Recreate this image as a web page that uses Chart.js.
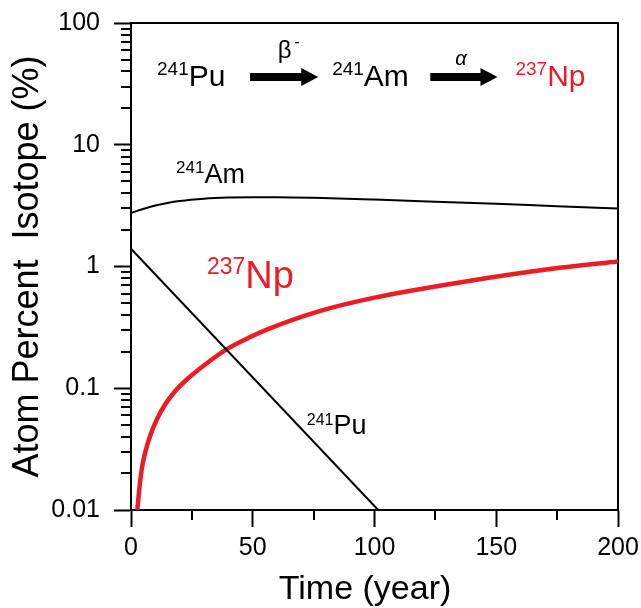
<!DOCTYPE html>
<html>
<head>
<meta charset="utf-8">
<script src="https://cdn.jsdelivr.net/npm/chart.js@4"></script>
<style>
  html, body { margin: 0; padding: 0; background: #fff; }
  #wrap { width: 641px; height: 608px; }
</style>
</head>
<body>
<div id="wrap"><canvas id="decayChart" width="641" height="608"></canvas></div>
<script>
// Données
const amYears = [0, 5, 10, 15, 20, 30, 40, 50, 60, 75, 100, 125, 150, 175, 200];
const amValues = [2.75, 2.97, 3.17, 3.33, 3.45, 3.6, 3.68, 3.71, 3.71, 3.67, 3.55, 3.41, 3.27, 3.13, 3.0];

const npYears = [2.6, 3.4, 4.4, 5.8, 7.8, 10.6, 14, 18.1, 22.9, 27.7, 38.4, 49.4, 56.8, 77.4, 100, 135, 176, 200];
const npValues = [0.01, 0.0148, 0.0216, 0.0295, 0.0404, 0.0554, 0.0735, 0.0945, 0.118, 0.142, 0.204, 0.266, 0.309, 0.43, 0.555, 0.74, 0.975, 1.1];

const puYears = [0, 101.5];
const puValues = [1.4, 0.01];

const xTicks = [0, 50, 100, 150, 200];
const xMinorTicks = [25, 75, 125, 175];
const yTicks = [0.01, 0.1, 1, 10, 100];

const FONT = "'Liberation Sans', Arial, sans-serif";
const RED = '#ed1c24';

Chart.defaults.font.family = FONT;
Chart.defaults.color = '#000';

function toPoints(xs, ys) {
    return xs.map((x, i) => ({x: x, y: ys[i]}));
}

// Petits traits des graduations secondaires
function minorYTicks() {
    const list = [];
    yTicks.slice(0, -1).forEach(d => {
        for (let m = 2; m <= 9; m++) list.push(m * d);
    });
    return list;
}

// Isotope avec nombre de masse en exposant
function drawIsotope(ctx, x, y, mass, symbol, size, supSize, color) {
    ctx.fillStyle = color;
    ctx.textAlign = 'left';
    ctx.textBaseline = 'alphabetic';
    ctx.font = supSize + 'px ' + FONT;
    ctx.fillText(mass, x, y - size * 0.36);
    const w = ctx.measureText(mass).width;
    ctx.font = size + 'px ' + FONT;
    ctx.fillText(symbol, x + w, y);
}

function drawArrow(ctx, x1, x2, y) {
    ctx.fillStyle = '#000';
    ctx.beginPath();
    ctx.moveTo(x1, y - 4);
    ctx.lineTo(x2 - 17, y - 4);
    ctx.lineTo(x2 - 17, y - 9);
    ctx.lineTo(x2, y);
    ctx.lineTo(x2 - 17, y + 9);
    ctx.lineTo(x2 - 17, y + 4);
    ctx.lineTo(x1, y + 4);
    ctx.closePath();
    ctx.fill();
}

const annotations = {
    id: 'annotations',
    afterDraw(chart) {
        const ctx = chart.ctx;
        const xs = chart.scales.x;
        const ys = chart.scales.y;
        const area = chart.chartArea;
        const X = v => xs.getPixelForValue(v);
        const Y = v => ys.getPixelForValue(v);

        ctx.save();
        // graduations secondaires
        ctx.strokeStyle = '#000';
        ctx.lineWidth = 2;
        ctx.beginPath();
        xMinorTicks.forEach(v => {
            const px = Math.round(X(v));
            ctx.moveTo(px, area.bottom);
            ctx.lineTo(px, area.bottom + 10);
        });
        minorYTicks().forEach(v => {
            const py = Math.round(Y(v));
            ctx.moveTo(area.left, py);
            ctx.lineTo(area.left - 10, py);
        });
        ctx.stroke();

        // schéma de désintégration
        drawIsotope(ctx, X(10.7), Y(30.3), '241', 'Pu', 30, 19, '#000');
        drawArrow(ctx, X(48.9), X(76.9), Y(36));
        ctx.fillStyle = '#000';
        ctx.font = '24px ' + FONT;
        ctx.fillText('\u03B2', X(60.3), Y(51.4));
        ctx.font = '16px ' + FONT;
        ctx.fillText('-', X(67), Y(63.8));
        drawIsotope(ctx, X(82.6), Y(30.3), '241', 'Am', 30, 19, '#000');
        drawArrow(ctx, X(122.9), X(150.5), Y(36));
        ctx.fillStyle = '#000';
        ctx.font = 'italic 20px ' + FONT;
        ctx.fillText('\u03B1', X(133.2), Y(45.4));
        drawIsotope(ctx, X(157.9), Y(30.3), '237', 'Np', 30, 19, RED);

        // étiquettes des courbes
        drawIsotope(ctx, X(18.5), Y(4.85), '241', 'Am', 27, 17, '#000');
        drawIsotope(ctx, X(31.2), Y(0.665), '237', 'Np', 38, 23, RED);
        drawIsotope(ctx, X(72.2), Y(0.0417), '241', 'Pu', 27, 16, '#000');
        ctx.restore();
    }
};

const frameAxis = {
    display: true,
    ticks: { display: false },
    grid: { drawOnChartArea: false, drawTicks: false },
    border: { color: '#000', width: 2 }
};

function noPadding(s) {
    s.paddingLeft = 0;
    s.paddingRight = 0;
    s.paddingTop = 0;
    s.paddingBottom = 0;
}

new Chart(document.getElementById('decayChart').getContext('2d'), {
    type: 'line',
    data: {
        datasets: [
            {
                label: '241Am',
                data: toPoints(amYears, amValues),
                borderColor: '#000',
                borderWidth: 2,
                pointRadius: 0,
                cubicInterpolationMode: 'monotone'
            },
            {
                label: '241Pu',
                data: toPoints(puYears, puValues),
                borderColor: '#000',
                borderWidth: 2,
                pointRadius: 0
            },
            {
                label: '237Np',
                data: toPoints(npYears, npValues),
                borderColor: RED,
                borderWidth: 4.5,
                pointRadius: 0,
                cubicInterpolationMode: 'monotone'
            }
        ]
    },
    options: {
        responsive: false,
        animation: false,
        layout: { padding: { left: 0, top: 23, right: 23, bottom: 0 } },
        plugins: {
            legend: { display: false },
            tooltip: { enabled: false }
        },
        scales: {
            x: {
                type: 'linear',
                position: 'bottom',
                min: 0,
                max: 200,
                afterFit: s => { s.height = 98; noPadding(s); },
                afterBuildTicks: s => { s.ticks = xTicks.map(v => ({value: v})); },
                ticks: { font: { size: 25 }, padding: 6, maxRotation: 0, autoSkip: false },
                grid: { drawOnChartArea: false, tickLength: 17, tickWidth: 2, tickColor: '#000' },
                border: { color: '#000', width: 2 },
                title: {
                    display: true,
                    text: 'Time (year)  ',
                    font: { size: 34, lineHeight: 1 },
                    padding: { top: 0, bottom: 1 }
                }
            },
            y: {
                type: 'logarithmic',
                position: 'left',
                min: 0.01,
                max: 100,
                afterFit: s => { s.width = 131; noPadding(s); },
                afterBuildTicks: s => { s.ticks = yTicks.map(v => ({value: v})); },
                ticks: {
                    font: { size: 25 },
                    padding: 14,
                    autoSkip: false,
                    callback: v => String(v)
                },
                grid: { drawOnChartArea: false, tickLength: 17, tickWidth: 2, tickColor: '#000' },
                border: { color: '#000', width: 2 },
                title: {
                    display: true,
                    text: 'Atom Percent  Isotope (%)',
                    font: { size: 36, lineHeight: 1 },
                    padding: { top: 10, bottom: 0 }
                }
            },
            xTop: Object.assign({ position: 'top', afterFit: s => { s.height = 0; noPadding(s); } }, frameAxis),
            yRight: Object.assign({ position: 'right', afterFit: s => { s.width = 0; noPadding(s); } }, frameAxis)
        }
    },
    plugins: [annotations]
});
</script>
</body>
</html>
